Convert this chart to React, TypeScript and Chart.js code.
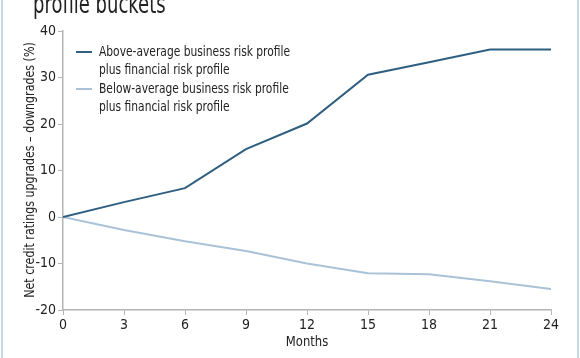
import React, { useEffect, useRef } from "react";
import { Chart, registerables } from "chart.js";

Chart.register(...registerables);

const months = [0, 3, 6, 9, 12, 15, 18, 21, 24];
const aboveAverage = [0, 3.2, 6.2, 14.6, 20.1, 30.6, 33.3, 36.0, 36.0];
const belowAverage = [0, -2.8, -5.2, -7.3, -10.0, -12.1, -12.3, -13.8, -15.5];
const aboveLabel = ["Above-average business risk profile", "plus financial risk profile"];
const belowLabel = ["Below-average business risk profile", "plus financial risk profile"];
const titleText = "profile buckets";
const yTitle = "Net credit ratings upgrades \u2013 downgrades (%)";
const xTitle = "Months";

const FONT = "'Liberation Sans Narrow', 'DejaVu Sans Condensed', 'Noto Sans', sans-serif";
const DARK = "#2f5f80";
const LIGHT = "#aac2d7";
const AXIS = "#b4b4b4";
const TEXT = "#222222";

function scaledText(ctx: any, text: string, x: number, y: number, sx: number) {
  ctx.save();
  ctx.translate(x, y);
  ctx.scale(sx, 1);
  ctx.fillText(text, 0, 0);
  ctx.restore();
}

const textPlugin = {
  id: "customText",
  afterDraw(chart: any) {
    const ctx = chart.ctx;
    const area = chart.chartArea;
    ctx.save();
    // frame lines
    ctx.strokeStyle = "#c6d7e4";
    ctx.lineWidth = 2;
    ctx.beginPath();
    ctx.moveTo(2, 0);
    ctx.lineTo(2, chart.height);
    ctx.moveTo(578, 0);
    ctx.lineTo(578, chart.height);
    ctx.stroke();
    // title (cropped)
    ctx.fillStyle = TEXT;
    ctx.font = `26px ${FONT}`;
    ctx.textAlign = "left";
    ctx.textBaseline = "alphabetic";
    scaledText(ctx, titleText, 33, 13, 0.77);
    // axis titles
    ctx.font = `14px ${FONT}`;
    ctx.textAlign = "center";
    ctx.textBaseline = "middle";
    scaledText(ctx, xTitle, (area.left + area.right) / 2, 342, 0.92);
    ctx.save();
    ctx.translate(30, 170);
    ctx.rotate(-Math.PI / 2);
    ctx.scale(0.88, 1);
    ctx.fillText(yTitle, 0, 0);
    ctx.restore();
    // legend
    ctx.textAlign = "left";
    const items = chart.data.datasets;
    let y = 52;
    items.forEach((ds: any) => {
      ctx.strokeStyle = ds.borderColor;
      ctx.lineWidth = 2;
      ctx.beginPath();
      ctx.moveTo(76, y);
      ctx.lineTo(92, y);
      ctx.stroke();
      ctx.fillStyle = TEXT;
      (ds.legendLines as string[]).forEach((line: string) => {
        scaledText(ctx, line, 99, y, 0.85);
        y += 18.5;
      });
    });
    ctx.restore();
  },
};

export default function App() {
  const ref = useRef<HTMLCanvasElement>(null);
  useEffect(() => {
    if (!ref.current) return;
    const chart = new Chart(ref.current, {
      type: "line",
      data: {
        datasets: [
          {
            label: aboveLabel.join(" "),
            legendLines: aboveLabel,
            data: months.map((m, i) => ({ x: m, y: aboveAverage[i] })),
            borderColor: DARK,
            borderWidth: 2,
            pointRadius: 0,
            tension: 0,
          } as any,
          {
            label: belowLabel.join(" "),
            legendLines: belowLabel,
            data: months.map((m, i) => ({ x: m, y: belowAverage[i] })),
            borderColor: LIGHT,
            borderWidth: 2,
            pointRadius: 0,
            tension: 0,
          } as any,
        ],
      },
      options: {
        animation: false,
        responsive: false,
        maintainAspectRatio: false,
        layout: { padding: { top: 31, right: 29, left: 0, bottom: 0 } },
        plugins: { legend: { display: false }, tooltip: { enabled: false } },
        scales: {
          x: {
            type: "linear",
            min: 0,
            max: 24,
            afterFit: (s: any) => {
              s.height = 48;
            },
            ticks: {
              stepSize: 3,
              color: TEXT,
              font: { family: FONT, size: 14 },
              padding: 2,
              maxRotation: 0,
            },
            grid: { drawOnChartArea: false, drawTicks: true, tickLength: 5, color: AXIS },
            border: { color: AXIS, width: 1.5 },
          },
          y: {
            min: -20,
            max: 40,
            afterFit: (s: any) => {
              s.width = 63;
            },
            ticks: {
              stepSize: 10,
              color: TEXT,
              font: { family: FONT, size: 14 },
              padding: 2,
            },
            grid: { drawOnChartArea: false, drawTicks: true, tickLength: 5, color: AXIS },
            border: { color: AXIS, width: 1.5 },
          },
        },
      },
      plugins: [textPlugin],
    });
    return () => chart.destroy();
  }, []);
  return (
    <div style={{ position: "fixed", left: 0, top: 0, width: 580, height: 358, background: "#fff" }}>
      <canvas ref={ref} width={580} height={358} style={{ display: "block" }} />
    </div>
  );
}
